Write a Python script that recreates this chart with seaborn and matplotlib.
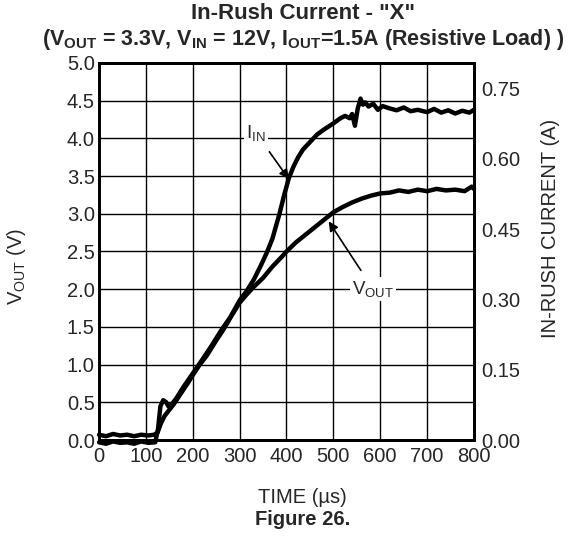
import numpy as np
import pandas as pd
import matplotlib
matplotlib.use("Agg")
import matplotlib.pyplot as plt
import seaborn as sns

# values
t_vout = [0, 15, 30, 45, 60, 75, 90, 105, 118, 125, 132, 140, 150, 160, 175, 190, 200,
          215, 230, 250, 265, 280, 300, 315, 330, 350, 370, 390, 400, 420, 440, 460, 480,
          500, 520, 540, 560, 580, 600, 620, 640, 660, 680, 700, 720, 740, 760, 780, 795, 800]
vout = [0.07, 0.05, 0.08, 0.06, 0.07, 0.05, 0.07, 0.06, 0.07, 0.10, 0.22, 0.32, 0.40, 0.48,
        0.62, 0.76, 0.86, 1.00, 1.12, 1.32, 1.46, 1.62, 1.82, 1.93, 2.03, 2.15, 2.30, 2.43,
        2.50, 2.62, 2.72, 2.82, 2.92, 3.02, 3.09, 3.15, 3.20, 3.24, 3.27, 3.28, 3.31, 3.29,
        3.32, 3.30, 3.33, 3.31, 3.32, 3.30, 3.36, 3.33]

t_iin = [0, 15, 30, 45, 60, 75, 90, 105, 120, 126, 131, 137, 143, 148, 155, 165, 180, 200,
         220, 240, 260, 280, 300, 315, 330, 345, 358, 370, 385, 395, 405, 415, 425, 435, 450,
         465, 480, 500, 515, 525, 535, 540, 546, 552, 558, 563, 568, 575, 585, 595, 605, 620,
         635, 650, 665, 680, 700, 715, 730, 745, 760, 775, 790, 800]
iin = [-0.005, -0.008, -0.003, -0.006, -0.005, -0.008, -0.003, -0.006, -0.005, 0.024, 0.072,
       0.085, 0.081, 0.072, 0.076, 0.089, 0.113, 0.142, 0.171, 0.201, 0.233, 0.262, 0.298,
       0.318, 0.342, 0.372, 0.400, 0.430, 0.483, 0.523, 0.559, 0.584, 0.604, 0.620, 0.636,
       0.652, 0.663, 0.676, 0.687, 0.692, 0.687, 0.696, 0.671, 0.708, 0.729, 0.716, 0.721,
       0.712, 0.718, 0.705, 0.713, 0.708, 0.704, 0.710, 0.702, 0.705, 0.700, 0.707, 0.699,
       0.704, 0.697, 0.703, 0.699, 0.705]

x_ticks = [0, 100, 200, 300, 400, 500, 600, 700, 800]
v_ticks = [0.0, 0.5, 1.0, 1.5, 2.0, 2.5, 3.0, 3.5, 4.0, 4.5, 5.0]
i_ticks = [0.00, 0.15, 0.30, 0.45, 0.60, 0.75]

sns.set_style("white")
plt.rcParams['font.family'] = ['Liberation Sans', 'DejaVu Sans']
plt.rcParams['mathtext.default'] = 'regular'

fig = plt.figure(figsize=(5.68, 5.36), dpi=100)
ax = fig.add_subplot(111)
fig.subplots_adjust(left=0.1743, right=0.8345, top=0.8825, bottom=0.1791)
ax2 = ax.twinx()

df_v = pd.DataFrame({'t': t_vout, 'v': vout})
df_i = pd.DataFrame({'t': t_iin, 'i': iin})
sns.lineplot(data=df_v, x='t', y='v', ax=ax, color='black', linewidth=3.2, zorder=3)
sns.lineplot(data=df_i, x='t', y='i', ax=ax2, color='black', linewidth=3.2, zorder=3)
for ln in ax.lines + ax2.lines:
    ln.set_clip_on(False)

fs = 14.5
ax.set_xlim(0, 800)
ax.set_ylim(0, 5)
ax2.set_ylim(0, 0.805)
ax.set_xticks(x_ticks)
ax.set_yticks(v_ticks)
ax2.set_yticks(i_ticks)
ax.set_xticklabels([str(x) for x in x_ticks], fontsize=fs)
ax.set_yticklabels([f'{v:.1f}' for v in v_ticks], fontsize=fs)
ax2.set_yticklabels([f'{v:.2f}' for v in i_ticks], fontsize=fs)
ax.tick_params(axis='x', length=0, pad=5)
ax.tick_params(axis='y', length=0, pad=3)
ax2.tick_params(length=0, pad=5)

ax.grid(True, color='black', linewidth=1.0)
ax.set_axisbelow(True)
for a in (ax, ax2):
    for s in a.spines.values():
        s.set_linewidth(2)
        s.set_color('black')

ax.set_xlabel('')
ax.set_ylabel('V$_{OUT}$ (V)', fontsize=fs)
ax.yaxis.set_label_coords(-0.19, 0.46)
ax2.set_ylabel('IN-RUSH CURRENT (A)', fontsize=fs)
ax2.yaxis.set_label_coords(1.18, 0.56)

fig.text(0.533, 0.072, 'TIME (µs)', ha='center', va='center', fontsize=fs)
fig.text(0.533, 0.030, 'Figure 26.', ha='center', va='center', fontsize=fs,
         fontweight='bold')
fig.text(0.533, 0.975, 'In-Rush Current - "X"', ha='center', va='center',
         fontsize=16, fontweight='bold')
fig.text(0.533, 0.927, '(V$_{OUT}$ = 3.3V, V$_{IN}$ = 12V, I$_{OUT}$=1.5A (Resistive Load) )',
         ha='center', va='center', fontsize=15.5, fontweight='bold')

bbox = dict(boxstyle='square,pad=0.1', fc='white', ec='none')
ax.annotate('I$_{IN}$', xy=(405, 3.46), xytext=(335, 4.07), fontsize=fs - 1,
            ha='center', va='center', bbox=bbox, zorder=5,
            arrowprops=dict(arrowstyle='-|>', color='black', lw=1.2,
                            mutation_scale=14, shrinkA=6, shrinkB=0))
ax.annotate('V$_{OUT}$', xy=(490, 2.9), xytext=(585, 2.0), fontsize=fs - 1,
            ha='center', va='center', bbox=bbox, zorder=5,
            arrowprops=dict(arrowstyle='-|>', color='black', lw=1.2,
                            mutation_scale=14, shrinkA=6, shrinkB=0))

fig.savefig('out.png', dpi=100)
